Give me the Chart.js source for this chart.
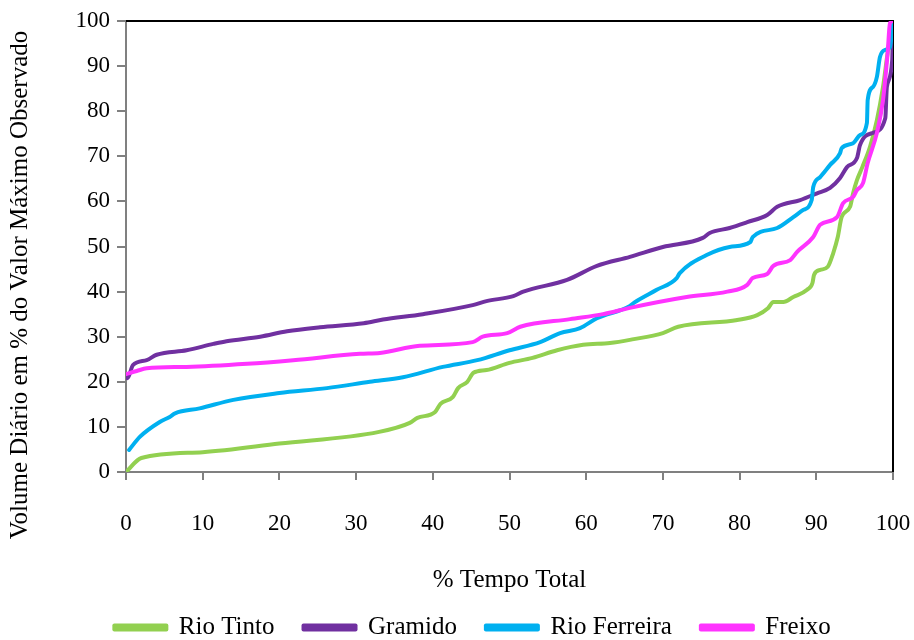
<!DOCTYPE html>
<html>
<head>
<meta charset="utf-8">
<script src="https://cdn.jsdelivr.net/npm/chart.js@4/dist/chart.umd.min.js"></script>
<style>
  html, body { margin: 0; padding: 0; background: #fff; }
  #wrap { width: 914px; height: 640px; position: relative; }
</style>
</head>
<body>
<div id="wrap"><canvas id="chart"></canvas></div>
<script>
// Curvas de duração (% tempo vs % valor máximo)
const seriesNames = ['Rio Tinto', 'Gramido', 'Rio Ferreira', 'Freixo'];
const seriesColors = ['#92D050', '#7030A0', '#00B0F0', '#FF33FF'];

const tintoX = [0, 2, 10, 20, 33, 37, 38, 40.3, 41, 42.6, 43.3, 44.5, 45.3, 47, 50, 53, 56.2, 59.6, 63.1, 66, 70, 72, 79.7, 82.3, 83.7, 84.4, 85.7, 87, 88.8, 89.5, 89.7, 90.5, 91.5, 92.2, 92.8, 93.3, 94.4, 94.8, 95.3, 96, 97, 97.9, 98.7, 99.3, 100];
const tintoY = [0, 3.1, 4.4, 6.3, 8.9, 10.9, 12, 13.3, 15.1, 16.6, 18.6, 20, 22, 22.6, 24.2, 25.3, 27, 28.2, 28.6, 29.4, 30.8, 32.2, 33.7, 34.8, 36.3, 37.7, 37.7, 38.8, 40.4, 41.9, 43.7, 44.8, 45.5, 48.5, 52.1, 56.5, 58.8, 61.8, 64.7, 67.6, 72.1, 78, 85.4, 92.9, 100];

const gramidoX = [0, 0.2, 0.9, 2.7, 4, 7.9, 11.4, 13.1, 17.5, 21, 25.3, 31, 33.5, 38.7, 45.2, 47, 50.5, 51.8, 57.5, 61.4, 65.7, 70, 75.2, 76.1, 78.7, 81, 83.6, 84.9, 87.9, 90.1, 91.8, 93.1, 94, 95.3, 95.7, 97.4, 99, 99.2, 99.9, 100];
const gramidoY = [21, 20.8, 23.7, 24.8, 26, 27, 28.4, 29, 30, 31.2, 32.1, 33, 33.8, 35, 37, 37.9, 39, 40, 42.6, 45.7, 47.7, 49.9, 51.9, 53, 54.1, 55.4, 57, 58.8, 60.3, 61.8, 63, 65.2, 67.6, 69.6, 72.5, 75.2, 78.5, 85.4, 91.4, 100];

const ferreiraX = [0.4, 1.8, 4.4, 5.7, 6.4, 9.6, 14, 20, 26.2, 31.8, 36.1, 41.3, 45.8, 50, 54, 56.6, 59.2, 61.4, 65.7, 66.3, 69.2, 71.8, 72.2, 75.7, 78.7, 81.4, 81.7, 84.9, 87, 88.3, 89.4, 89.6, 90.5, 91.8, 93.1, 93.3, 94.8, 95.7, 96.6, 96.7, 97.4, 97.9, 98.3, 99, 99.6, 100];
const ferreiraY = [4.9, 7.8, 11.1, 12.2, 13, 14.1, 16, 17.5, 18.6, 20, 21, 23.3, 24.8, 27, 28.8, 30.8, 31.9, 34.1, 36.8, 37.6, 40.4, 43, 44.1, 48.1, 49.9, 51, 52.1, 54.1, 56.5, 58.1, 60.3, 63.2, 65.4, 68.1, 70.7, 71.8, 72.9, 74.7, 77.4, 82.5, 85.4, 87.6, 92, 93.6, 94.2, 100];

const freixoX = [0, 1.4, 2.7, 7.9, 15.8, 21.8, 30.5, 33.1, 38.3, 45.2, 46.5, 49.7, 51.4, 57.9, 62.2, 65.7, 73.1, 78.4, 81, 81.7, 83.6, 84.4, 86.6, 87.5, 89.6, 90.5, 92.7, 93.5, 94.8, 95.3, 96.1, 96.7, 97.9, 98.7, 99.3, 99.6, 100];
const freixoY = [21.7, 22.4, 23, 23.3, 24, 24.8, 26.2, 26.4, 28, 28.8, 30, 30.8, 32.2, 33.9, 35, 36.4, 38.8, 40, 41.5, 43, 43.9, 45.7, 47, 48.8, 52.1, 54.8, 56.5, 59.6, 61, 62.5, 64.1, 68.5, 75.2, 82.5, 92.9, 99.5, 100];

const xTicks = [0, 10, 20, 30, 40, 50, 60, 70, 80, 90, 100];
const yTicks = [0, 10, 20, 30, 40, 50, 60, 70, 80, 90, 100];

const xTitle = '% Tempo Total';
const yTitle = 'Volume Diário em % do Valor Máximo Observado';

const FONT = "'Liberation Serif', 'Times New Roman', serif";
const allX = [tintoX, gramidoX, ferreiraX, freixoX];
const allY = [tintoY, gramidoY, ferreiraY, freixoY];

const datasets = seriesNames.map((name, i) => ({
    label: name,
    data: allX[i].map((x, j) => ({ x: x, y: allY[i][j] })),
    borderColor: seriesColors[i],
    backgroundColor: seriesColors[i],
    borderWidth: 4,
    pointRadius: 0,
    cubicInterpolationMode: 'monotone',
    borderJoinStyle: 'round',
    borderCapStyle: 'round',
    order: seriesNames.length - i
}));

// moldura preta em cima e à direita + título do eixo Y
const framePlugin = {
    id: 'frame',
    beforeUpdate(chart) {
        // legenda sem os 10px extra que o Chart.js junta em baixo
        const lg = chart.legend;
        if (lg && !lg._patched) {
            const fit = lg.fit;
            lg.fit = function () { fit.call(this); this.height -= 10; };
            lg._patched = true;
        }
    },
    afterLayout(chart) {
        // legenda centrada um pouco mais à direita, como no original
        const lg = chart.legend;
        if (lg) { lg.left += 26; lg.right += 26; }
    },
    beforeDatasetsDraw(chart) {
        const { ctx, chartArea: a } = chart;
        ctx.save();
        ctx.strokeStyle = '#000';
        ctx.lineWidth = 2;
        ctx.beginPath();
        ctx.moveTo(a.left, a.top);
        ctx.lineTo(a.right, a.top);
        ctx.lineTo(a.right, a.bottom);
        ctx.stroke();
        ctx.restore();
    },
    afterDraw(chart) {
        const { ctx } = chart;
        ctx.save();
        ctx.translate(20, 285);
        ctx.rotate(-Math.PI / 2);
        ctx.font = '25px ' + FONT;
        ctx.fillStyle = '#000';
        ctx.textAlign = 'center';
        ctx.textBaseline = 'middle';
        ctx.fillText(yTitle, 0, 0);
        ctx.restore();
    }
};

new Chart(document.getElementById('chart'), {
    type: 'line',
    data: { datasets },
    options: {
        responsive: true,
        maintainAspectRatio: false,
        animation: false,
        layout: { padding: { left: 0, right: 21, top: 21, bottom: 0 } },
        plugins: {
            legend: {
                position: 'bottom',
                labels: {
                    font: { family: FONT, size: 25 },
                    color: '#000',
                    boxWidth: 52,
                    boxHeight: 4,
                    padding: 29,
                    sort: (a, b) => a.datasetIndex - b.datasetIndex
                }
            },
            tooltip: { enabled: false }
        },
        scales: {
            x: {
                type: 'linear',
                min: 0,
                max: 100,
                afterBuildTicks: (s) => { s.ticks = xTicks.map(v => ({ value: v })); },
                ticks: { font: { family: FONT, size: 23 }, color: '#000', padding: 30, maxRotation: 0 },
                grid: { drawOnChartArea: false, color: '#808080', lineWidth: 2, tickLength: 8 },
                border: { color: '#808080', width: 2 },
                title: { display: true, text: xTitle, font: { family: FONT, size: 25 }, color: '#000', padding: { top: 0, bottom: -9 } },
                afterFit: (s) => { s.height = 114; s.paddingLeft = 0; s.paddingRight = 0; }
            },
            y: {
                min: 0,
                max: 100,
                afterBuildTicks: (s) => { s.ticks = yTicks.map(v => ({ value: v })); },
                ticks: { font: { family: FONT, size: 23 }, color: '#000', padding: 7 },
                grid: { drawOnChartArea: false, color: '#808080', lineWidth: 2, tickLength: 9 },
                border: { color: '#808080', width: 2 },
                afterFit: (s) => { s.width = 126; s.paddingTop = 0; s.paddingBottom = 0; }
            }
        }
    },
    plugins: [framePlugin]
});
</script>
</body>
</html>
